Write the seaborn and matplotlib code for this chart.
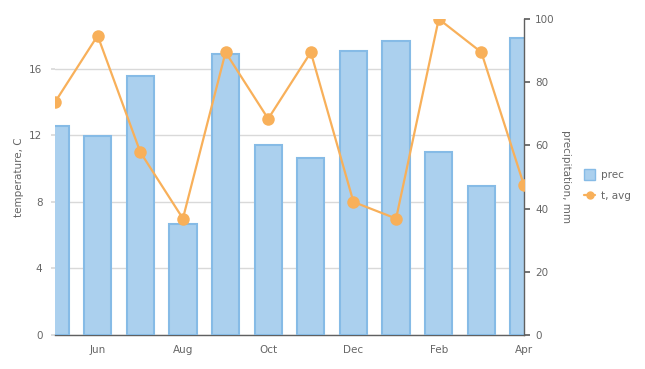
import matplotlib
matplotlib.use("Agg")
import matplotlib.pyplot as plt
import seaborn as sns
import pandas as pd
from matplotlib.patches import Patch
from matplotlib.lines import Line2D

months = ["May", "Jun", "Jul", "Aug", "Sep", "Oct", "Nov", "Dec", "Jan", "Feb", "Mar", "Apr"]
prec = [66, 63, 82, 35, 89, 60, 56, 90, 93, 58, 47, 94]
t_avg = [14, 18, 11, 7, 17, 13, 17, 8, 7, 19, 17, 9]
tick_labels = ["Jun", "Aug", "Oct", "Dec", "Feb", "Apr"]

df = pd.DataFrame({"month": months, "prec": prec, "t_avg": t_avg, "pos": range(len(months))})

sns.set_theme(style="white")
plt.rcParams["font.family"] = ["DejaVu Sans"]

txt = "#666666"
axis_c = "#606060"
bar_face = "#abd0ee"
bar_edge = "#86bbe6"
line_c = "#f8b05a"

fig = plt.figure(figsize=(6.45, 3.69), dpi=100)
ax = fig.add_axes([55/645, 34/369, 469/645, 316/369])
ax2 = ax.twinx()
ax3 = ax.twinx()

# host: temperature axis with grid
ax.set_ylim(0, 19)
ax.set_yticks([0, 4, 8, 12, 16])
ax.yaxis.grid(True, color="#d9d9d9", linewidth=1)
ax.xaxis.grid(False)
ax.set_ylabel("temperature, C", color=txt, fontsize=7.5, labelpad=4)
ax.tick_params(axis="y", colors="#d9d9d9", labelcolor=txt, labelsize=7.5, length=3, pad=6)

# bars on precipitation axis
sns.barplot(data=df, x="month", y="prec", ax=ax2, color=bar_face, width=0.64,
            edgecolor=bar_edge, linewidth=1.5, saturation=1, zorder=2)
for p in ax2.patches:
    p.set_facecolor(bar_face)
    p.set_edgecolor(bar_edge)
ax2.set_ylim(0, 100)
ax2.set_yticks([0, 20, 40, 60, 80, 100])
ax2.set_ylabel("precipitation, mm", color=txt, fontsize=7.5, rotation=270, labelpad=12)
ax2.yaxis.set_label_position("right")
ax2.yaxis.tick_right()
ax2.tick_params(axis="y", colors=axis_c, labelcolor=txt, labelsize=7.5, length=4, pad=4, direction="out")
ax2.set_xlabel("")

# line on temperature scale
sns.lineplot(data=df, x="pos", y="t_avg", ax=ax3, color=line_c, linewidth=1.6,
             marker="o", markersize=9, markeredgewidth=0, markerfacecolor=line_c)
ax3.set_ylim(0, 19)
ax3.set_yticks([])
ax3.set_ylabel("")
ax3.set_xlabel("")

for a in (ax, ax2, ax3):
    a.set_xlim(0, len(months) - 1)
    for s in a.spines.values():
        s.set_visible(False)

ax.set_xticks([1, 3, 5, 7, 9, 11])
ax.set_xticklabels(tick_labels)
ax.tick_params(axis="x", colors=axis_c, labelcolor=txt, labelsize=7.5, length=4, pad=3, direction="out")
ax2.tick_params(axis="x", bottom=False, labelbottom=False)
ax3.tick_params(axis="x", bottom=False, labelbottom=False)
ax.set_xlabel("")
ax.spines["bottom"].set_visible(True)
ax.spines["bottom"].set_color(axis_c)
ax.spines["bottom"].set_linewidth(1)
ax2.spines["right"].set_visible(True)
ax2.spines["right"].set_color(axis_c)
ax2.spines["right"].set_linewidth(1)

handles = [
    Patch(facecolor=bar_face, edgecolor=bar_edge, linewidth=1, label="prec"),
    Line2D([0], [0], color=line_c, linewidth=1.6, marker="o", markersize=5, label="t, avg"),
]
leg = fig.legend(handles=handles, loc="center left", bbox_to_anchor=(575/645, 1 - 185/369),
                 frameon=False, fontsize=7.5, handlelength=1.0, handleheight=1.2,
                 labelspacing=1.0, handletextpad=0.6)
for t in leg.get_texts():
    t.set_color(txt)

fig.savefig("out.png", dpi=100)
